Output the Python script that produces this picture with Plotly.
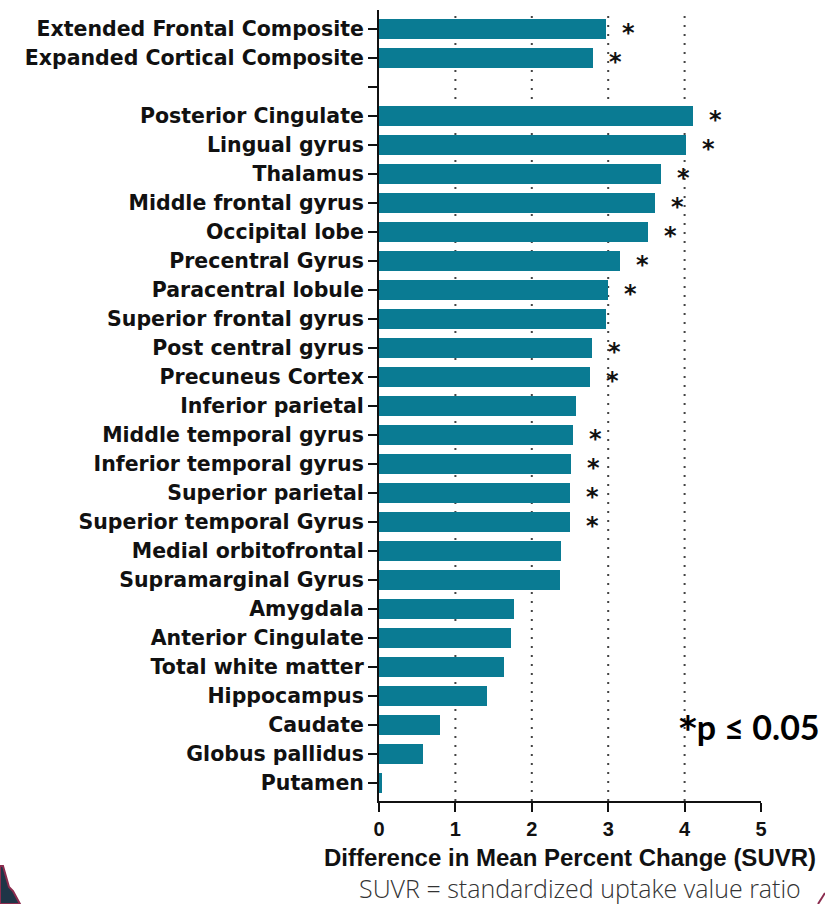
import plotly.graph_objects as go

# Composite regions (plotted first, above a blank spacer row)
composite_names = ["Extended Frontal Composite", "Expanded Cortical Composite"]
composite_values = [2.97, 2.80]
composite_significant = [True, True]

# Individual brain regions
region_names = [
    "Posterior Cingulate", "Lingual gyrus", "Thalamus", "Middle frontal gyrus",
    "Occipital lobe", "Precentral Gyrus", "Paracentral lobule", "Superior frontal gyrus",
    "Post central gyrus", "Precuneus Cortex", "Inferior parietal", "Middle temporal gyrus",
    "Inferior temporal gyrus", "Superior parietal", "Superior temporal Gyrus",
    "Medial orbitofrontal", "Supramarginal Gyrus", "Amygdala", "Anterior Cingulate",
    "Total white matter", "Hippocampus", "Caudate", "Globus pallidus", "Putamen",
]
region_values = [
    4.11, 4.02, 3.69, 3.61, 3.52, 3.15, 3.00, 2.97, 2.79, 2.76, 2.58, 2.54,
    2.51, 2.50, 2.50, 2.38, 2.37, 1.77, 1.73, 1.63, 1.41, 0.80, 0.57, 0.04,
]
region_significant = [
    True, True, True, True, True, True, True, False, True, True, False, True,
    True, True, True, False, False, False, False, False, False, False, False, False,
]

x_ticks = [0, 1, 2, 3, 4, 5]
x_title = "Difference in Mean Percent Change (SUVR)"
footnote = "SUVR = standardized uptake value ratio"
sig_note = "*p ≤ 0.05"

BAR_COLOR = "#0a7b93"
W, H = 825, 904
ML, MR, MT, MB = 379, 64, 10, 103
PW, PH = W - ML - MR, H - MT - MB


def paper(xp, yp):
    """Convert a page pixel position to paper coordinates."""
    return (xp - ML) / PW, 1 - (yp - MT) / PH


# Row slots: composites, one empty spacer row, then the regions
names = composite_names + region_names
values = composite_values + region_values
significant = composite_significant + region_significant
slots = list(range(len(composite_names))) + [
    len(composite_names) + 1 + i for i in range(len(region_names))
]
spacer_slot = len(composite_names)
n_slots = len(names) + 1

fig = go.Figure()
fig.add_trace(go.Bar(
    x=values, y=slots, orientation="h", width=0.67,
    marker=dict(color=BAR_COLOR, line=dict(width=0)),
    hoverinfo="skip", showlegend=False,
))

# Significance asterisks just beyond the bar ends
for v, s, sig in zip(values, slots, significant):
    if sig:
        fig.add_annotation(
            x=v, y=s, xref="x", yref="y", text="<b>*</b>", showarrow=False,
            xanchor="left", yanchor="middle", xshift=15, yshift=-4,
            borderpad=0,
            font=dict(family="DejaVu Sans", size=24, color="#111"),
        )

# Dotted vertical reference lines at the inner ticks
for t in x_ticks[1:-1]:
    fig.add_shape(
        type="line", x0=t, x1=t, y0=0, y1=1, xref="x", yref="paper",
        line=dict(color="#444", width=2, dash="2px,7px"), layer="below",
    )

tickvals = slots + [spacer_slot]
ticktext = names + [""]

fig.update_layout(
    width=W, height=H,
    margin=dict(l=ML, r=MR, t=MT, b=MB, pad=0),
    paper_bgcolor="white", plot_bgcolor="white",
    bargap=0,
    xaxis=dict(
        range=[0, 5], tickvals=x_ticks, ticktext=[str(t) for t in x_ticks],
        showgrid=False, zeroline=False, showline=True, linecolor="#111",
        linewidth=2, ticks="outside", ticklen=9, tickwidth=2, tickcolor="#111",
        tickfont=dict(family="Liberation Sans", size=20, color="#111", weight="bold"),
        title=dict(text="<b>" + x_title + "</b>", standoff=10,
                   font=dict(family="Liberation Sans", size=24, color="#111")),
        fixedrange=True,
    ),
    yaxis=dict(
        range=[n_slots - 1 + 0.62, -0.65], tickvals=tickvals, ticktext=ticktext,
        showgrid=False, zeroline=False, showline=True, linecolor="#111",
        linewidth=2, ticks="outside", ticklen=9, tickwidth=2, tickcolor="#111",
        tickfont=dict(family="DejaVu Sans", size=20.5, color="#111", weight="bold"),
        fixedrange=True,
    ),
)

# Significance key (larger leading asterisk)
star, rest = sig_note[0], sig_note[1:]
px_, py_ = paper(822, 727)
fig.add_annotation(
    x=px_, y=py_, xref="paper", yref="paper",
    text=f"<b><span style='font-family:DejaVu Sans;font-size:34px'>{star}</span>{rest}</b>",
    showarrow=False, xanchor="right", yanchor="middle",
    font=dict(family="Lato", size=34, color="#000"),
)

# Footnote under the axis title
px_, py_ = paper(580, 888)
fig.add_annotation(
    x=px_, y=py_, xref="paper", yref="paper", text=footnote,
    showarrow=False, xanchor="center", yanchor="middle",
    font=dict(family="Open Sans", size=25, color="#333", weight=300),
)

# Slide-background corner accents
def path(points):
    pts = [paper(x, y) for x, y in points]
    return "M " + " L ".join(f"{a:.5f},{b:.5f}" for a, b in pts) + " Z"

fig.add_shape(
    type="path", xref="paper", yref="paper",
    path=path([(0, 866), (3, 866), (9, 887), (13, 891), (20, 904), (0, 904)]),
    fillcolor="#1f3547", line=dict(color="#8b2c4e", width=2), layer="above",
)
x0, y0 = paper(825, 893)
x1, y1 = paper(818, 904)
fig.add_shape(type="line", xref="paper", yref="paper", x0=x0, y0=y0, x1=x1, y1=y1,
              line=dict(color="#8b2c4e", width=2))

fig.write_html("out.html")
